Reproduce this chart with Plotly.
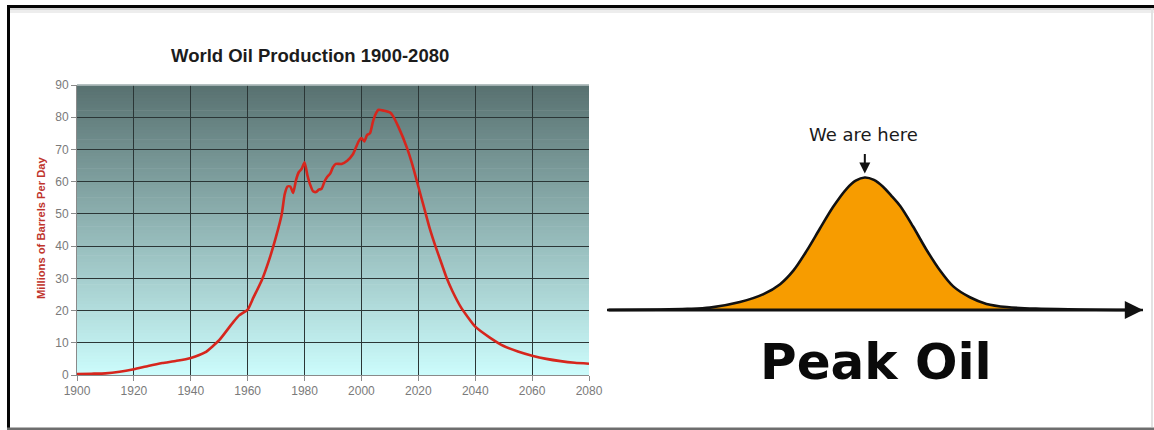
import plotly.graph_objects as go

# World oil production, millions of barrels per day
years = [1900, 1905, 1910, 1915, 1920, 1925, 1930, 1935, 1940, 1945, 1950, 1955,
         1957, 1960, 1962, 1965, 1968, 1970, 1972, 1973, 1974, 1975, 1976, 1977,
         1978, 1979, 1980, 1981, 1982, 1983, 1984, 1985, 1986, 1987, 1988, 1989,
         1990, 1991, 1993, 1995, 1997, 1999, 2000, 2001, 2002, 2003, 2004, 2005,
         2006, 2008, 2010, 2011, 2013, 2016, 2018, 2020, 2022, 2024, 2026, 2028,
         2030, 2032, 2035, 2040, 2045, 2050, 2055, 2060, 2065, 2070, 2075, 2080]
production = [0.3, 0.4, 0.5, 1.0, 1.8, 2.8, 3.7, 4.4, 5.3, 7.0, 10.8, 16.5,
              18.5, 20.3, 24.0, 29.5, 37.0, 43.0, 50.0, 56.0, 58.5, 58.5, 56.5, 60.5,
              63.0, 64.0, 66.0, 62.0, 59.0, 57.0, 56.8, 57.5, 57.8, 60.0, 61.5, 62.5,
              64.5, 65.5, 65.5, 66.5, 68.5, 72.5, 73.5, 72.5, 74.5, 75.0, 78.5, 81.0,
              82.3, 82.0, 81.5, 80.5, 77.0, 70.5, 65.0, 58.5, 52.0, 45.5, 40.0, 35.0,
              30.0, 26.0, 21.0, 15.0, 11.7, 9.0, 7.3, 6.0, 5.0, 4.3, 3.8, 3.5]
year_ticks = [1900, 1920, 1940, 1960, 1980, 2000, 2020, 2040, 2060, 2080]
value_ticks = [0, 10, 20, 30, 40, 50, 60, 70, 80, 90]

# Schematic peak-oil curve: time (arbitrary units) vs output (% of peak)
bell_t = [0, 10, 15, 19.2, 24.8, 29.2, 32.3, 34.8, 37.3, 39.7, 42.2, 44.7, 46.4,
          48.1, 49.8, 51.5, 53.1, 54.7, 57.1, 59.6, 62.1, 64.6, 67.7, 70.8, 74.6,
          80, 88, 95, 100]
bell_level = [0, 0.3, 0.8, 1.8, 6.0, 12.0, 19.5, 29.9, 45.0, 61.3, 77.9, 91.5, 97.6,
              100, 98.2, 93.0, 86.0, 78.5, 63.0, 45.5, 30.0, 17.8, 9.6, 4.6, 2.2,
              1.0, 0.4, 0, 0]
peak_index = bell_level.index(max(bell_level))

W, H = 1154, 430


def px_x(v):
    return v / W


def px_y(v):
    return 1 - v / H


fig = go.Figure()

fig.add_trace(go.Scatter(
    x=years, y=production, mode="lines",
    line=dict(color="#d6261d", width=2.6, shape="spline", smoothing=0.5),
    xaxis="x", yaxis="y", hoverinfo="skip", showlegend=False,
))

fig.add_trace(go.Scatter(
    x=bell_t, y=bell_level, mode="lines", fill="tozeroy",
    fillcolor="#f79c00",
    line=dict(color="#111111", width=2.6, shape="spline", smoothing=0.9),
    xaxis="x2", yaxis="y2", hoverinfo="skip", showlegend=False,
))

shapes = []

# vertical gradient behind the production chart
top_rgb = (88, 113, 112)
bot_rgb = (204, 252, 252)
n = 90
for i in range(n):
    f = (i + 0.5) / n
    c = tuple(round(bot_rgb[k] + (top_rgb[k] - bot_rgb[k]) * f) for k in range(3))
    shapes.append(dict(
        type="rect", xref="x domain", yref="y domain",
        x0=0, x1=1, y0=i / n, y1=(i + 1) / n + 0.002,
        fillcolor="rgb(%d,%d,%d)" % c, line=dict(width=0), layer="below",
    ))

# lighter border along the top of the plotting area
shapes.append(dict(type="line", xref="x domain", yref="y domain",
                   x0=0, x1=1, y0=1, y1=1,
                   line=dict(color="#b8c4c4", width=1.5), layer="above"))

# outer frame
shapes += [
    dict(type="rect", xref="paper", yref="paper",
         x0=px_x(7), x1=1, y0=px_y(8), y1=px_y(5),
         fillcolor="#050505", line=dict(width=0)),
    dict(type="rect", xref="paper", yref="paper",
         x0=px_x(10), x1=1, y0=px_y(10), y1=px_y(8),
         fillcolor="#d4d4d4", line=dict(width=0)),
    dict(type="rect", xref="paper", yref="paper",
         x0=px_x(10), x1=1, y0=px_y(13), y1=px_y(10),
         fillcolor="#ededed", line=dict(width=0)),
    dict(type="rect", xref="paper", yref="paper",
         x0=px_x(7), x1=px_x(10), y0=px_y(428), y1=px_y(5),
         fillcolor="#050505", line=dict(width=0)),
    dict(type="rect", xref="paper", yref="paper",
         x0=px_x(7), x1=1, y0=0, y1=px_y(427.5),
         fillcolor="#6e6e6e", line=dict(width=0)),
    dict(type="rect", xref="paper", yref="paper",
         x0=px_x(1151), x1=px_x(1153), y0=px_y(427), y1=px_y(8),
         fillcolor="#e2e2e2", line=dict(width=0)),
]

annotations = [
    dict(text="<b>World Oil Production 1900-2080</b>", xref="paper", yref="paper",
         x=px_x(310), y=px_y(55), xanchor="center", yanchor="middle",
         showarrow=False,
         font=dict(family="Arial, Liberation Sans", size=18.5, color="#1c1c1c")),
    dict(text="<b>Millions of Barrels Per Day</b>", xref="paper", yref="paper",
         x=px_x(41), y=px_y(228), xanchor="center", yanchor="middle",
         textangle=-90, showarrow=False,
         font=dict(family="Arial, Liberation Sans", size=11.2, color="#c0342c")),
    # baseline with arrow
    dict(x=100, y=0, ax=0, ay=0, xref="x2", yref="y2", axref="x2", ayref="y2",
         text="", showarrow=True, arrowhead=2, arrowsize=1.3, arrowwidth=2.8,
         arrowcolor="#111111", standoff=0),
    # pointer to the peak
    dict(x=bell_t[peak_index], y=103, xref="x2", yref="y2", ax=0, ay=-21,
         text="", showarrow=True, arrowhead=2, arrowsize=1.1, arrowwidth=2,
         arrowcolor="#111111", standoff=0),
    dict(text="We are here", xref="paper", yref="paper",
         x=px_x(863), y=px_y(134), xanchor="center", yanchor="middle",
         showarrow=False,
         font=dict(family="DejaVu Sans, Verdana", size=18, color="#1a1a1a")),
    dict(text="<b>Peak Oil</b>", xref="paper", yref="paper",
         x=px_x(876), y=px_y(362), xanchor="center", yanchor="middle",
         showarrow=False,
         font=dict(family="DejaVu Sans, Verdana", size=50, color="#0a0a0a")),
]

axis_font = dict(family="Arial, Liberation Sans", size=12, color="#7a7a7a")

fig.update_layout(
    width=W, height=H,
    margin=dict(l=0, r=0, t=0, b=0, pad=0, autoexpand=False),
    paper_bgcolor="white",
    plot_bgcolor="white",
    showlegend=False,
    shapes=shapes,
    annotations=annotations,
    xaxis=dict(
        domain=[px_x(77), px_x(589)], range=[1900, 2080],
        tickvals=year_ticks, ticktext=[str(v) for v in year_ticks],
        ticks="outside", ticklen=5, tickcolor="#8a8a8a",
        showgrid=True, gridcolor="#2b3636", gridwidth=1.2,
        showline=True, linecolor="#8a8a8a", linewidth=1,
        zeroline=False, tickfont=axis_font, anchor="y", automargin=False,
    ),
    yaxis=dict(
        domain=[px_y(375), px_y(85)], range=[0, 90],
        tickvals=value_ticks, ticktext=[str(v) for v in value_ticks],
        ticks="outside", ticklen=5, tickcolor="#8a8a8a",
        showgrid=True, gridcolor="#2b3636", gridwidth=1.2,
        showline=True, linecolor="#8a8a8a", linewidth=1,
        zeroline=False, tickfont=axis_font, anchor="x", automargin=False,
    ),
    xaxis2=dict(
        domain=[px_x(607), px_x(1143)], range=[0, 100],
        visible=False, anchor="y2",
    ),
    yaxis2=dict(
        domain=[px_y(316.6), px_y(170.9)], range=[-5, 105],
        visible=False, anchor="x2",
    ),
)

fig.write_html("out.html")
